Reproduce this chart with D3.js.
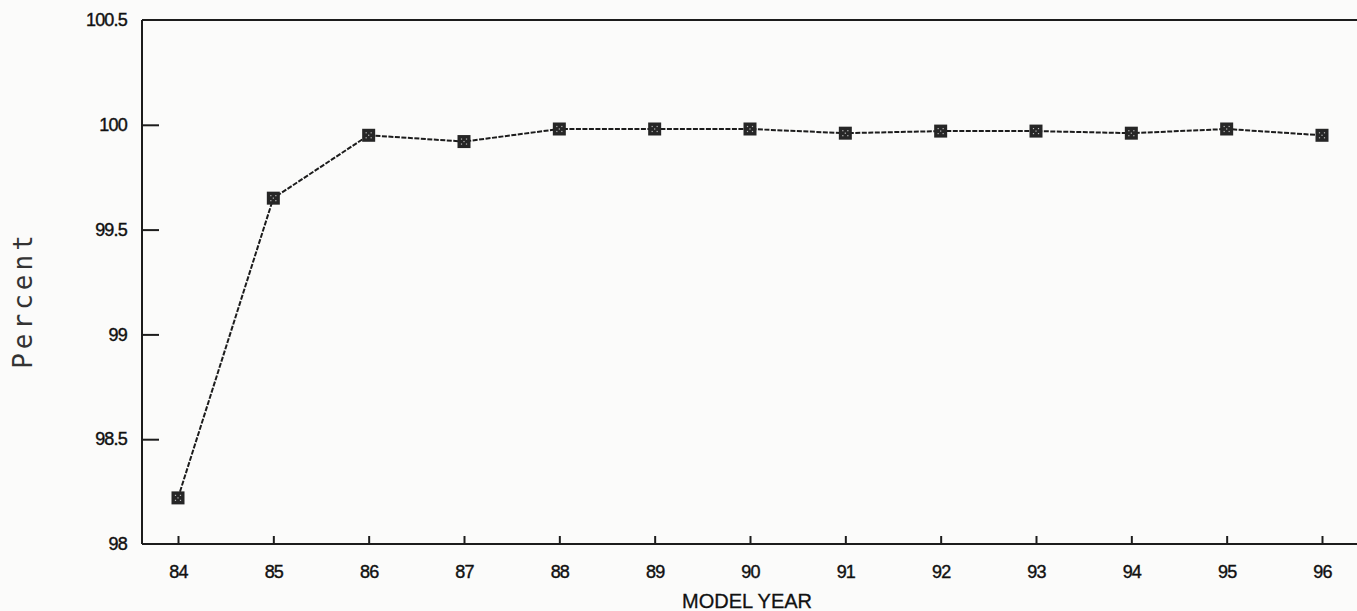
<!DOCTYPE html>
<html><head><meta charset="utf-8">
<script src="https://cdn.jsdelivr.net/npm/d3@7"></script>
<style>
html,body{margin:0;padding:0;background:#fbfbfa;}
svg{display:block;}
</style></head>
<body>
<svg id="chart" width="1357" height="611"></svg>
<script>
const years = ["84","85","86","87","88","89","90","91","92","93","94","95","96"];
const percent = [98.22, 99.65, 99.95, 99.92, 99.98, 99.98, 99.98, 99.96, 99.97, 99.97, 99.96, 99.98, 99.95];
const yTicks = [98, 98.5, 99, 99.5, 100, 100.5];
const yTickLabels = ["98", "98.5", "99", "99.5", "100", "100.5"];

(function () {
const svg = d3.select("#chart");
const mLeft = 142, mTop = 20, mBottom = 544, mRight = 1357;

const x = d3.scalePoint().domain(years).range([178, 1322]);
const y = d3.scaleLinear().domain([98, 100.5]).range([mBottom, mTop]);

const ink = "#1c1c1c";
const tickFont = "Liberation Sans, Arial, sans-serif";

// top frame line
svg.append("line").attr("x1", mLeft).attr("x2", mRight).attr("y1", mTop).attr("y2", mTop)
  .attr("stroke", ink).attr("stroke-width", 2);

// x axis
const xAxis = d3.axisBottom(x).tickSize(-8).tickPadding(34);
const gx = svg.append("g").attr("transform", `translate(0,${mBottom})`).call(xAxis);
gx.attr("font-size", null).attr("font-family", null);
gx.select(".domain").attr("d", `M${mLeft},0H${mRight}`).attr("stroke", ink).attr("stroke-width", 2);
gx.selectAll(".tick line").attr("stroke", ink).attr("stroke-width", 2);
gx.selectAll(".tick text").attr("font-family", tickFont)
  .attr("font-size", 18).attr("fill", "#111").attr("stroke", "#111").attr("stroke-width", 0.4)
  .attr("letter-spacing", -0.8).attr("dy", "0");

// y axis
const yAxis = d3.axisLeft(y).tickValues(yTicks).tickFormat((d, i) => yTickLabels[i]).tickSize(-17).tickPadding(15);
const gy = svg.append("g").attr("transform", `translate(${mLeft},0)`).call(yAxis);
gy.attr("font-size", null).attr("font-family", null);
gy.select(".domain").attr("d", `M0,${mTop}V${mBottom}`).attr("stroke", ink).attr("stroke-width", 2);
gy.selectAll(".tick line").attr("stroke", ink).attr("stroke-width", 2)
  .attr("display", d => (d === 98 || d === 100.5) ? "none" : null);
gy.selectAll(".tick text").attr("font-family", tickFont)
  .attr("font-size", 18).attr("fill", "#111").attr("stroke", "#111").attr("stroke-width", 0.4)
  .attr("letter-spacing", -0.8);

// line
const line = d3.line().x((d, i) => x(years[i])).y(d => y(d));
svg.append("path").datum(percent).attr("d", line)
  .attr("fill", "none").attr("stroke", ink).attr("stroke-width", 2)
  .attr("stroke-dasharray", "5,1.5");

// markers
const m = svg.append("g");
percent.forEach((v, i) => {
  const cx = x(years[i]), cy = y(v);
  m.append("rect").attr("x", cx - 6.5).attr("y", cy - 6.5).attr("width", 13).attr("height", 13)
    .attr("fill", "#262626");
  [[-2.5,-2.5],[2.5,-2.5],[0,0],[-2.5,2.5],[2.5,2.5]].forEach(([dx, dy]) => {
    m.append("rect").attr("x", cx + dx - 0.6).attr("y", cy + dy - 0.6).attr("width", 1.2).attr("height", 1.2)
      .attr("fill", "#bbbbbb");
  });
});

// axis titles
svg.append("text").attr("x", 747).attr("y", 608).attr("text-anchor", "middle")
  .attr("font-family", tickFont).attr("font-size", 20).attr("fill", "#111")
  .attr("stroke", "#111").attr("stroke-width", 0.3)
  .text("MODEL YEAR");

svg.append("text").attr("transform", "translate(32,300) rotate(-90)").attr("text-anchor", "middle")
  .attr("font-family", "DejaVu Sans Mono, monospace").attr("font-size", 26).attr("fill", "#333")
  .attr("letter-spacing", 4)
  .text("Percent");
})();
</script>
</body></html>
